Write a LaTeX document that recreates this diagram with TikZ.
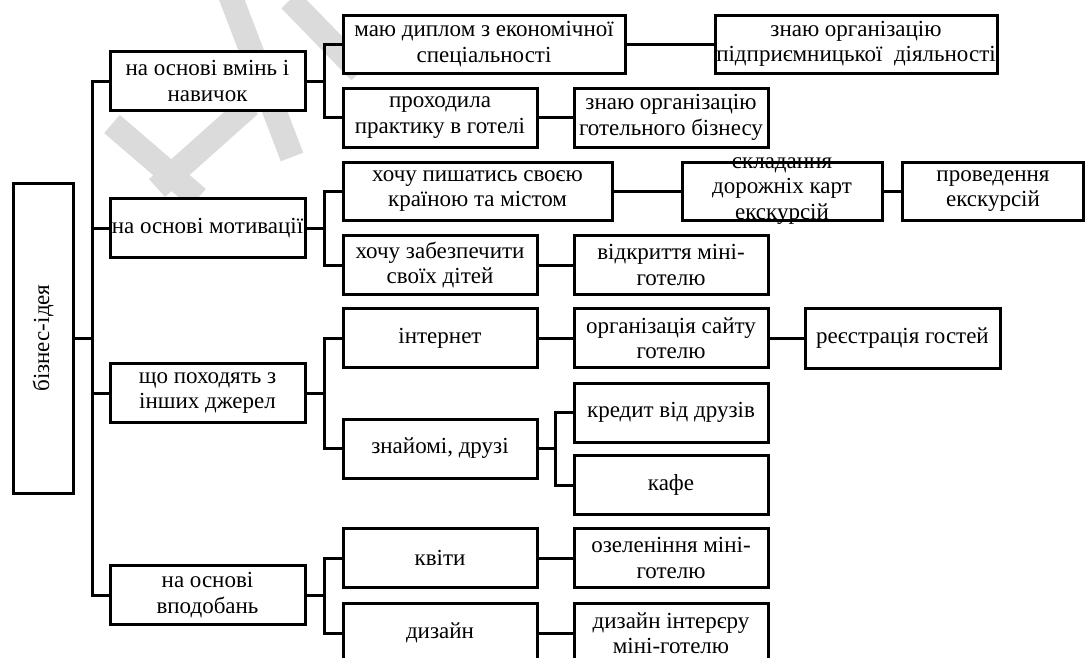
\documentclass[tikz,border=0pt]{standalone}
\usepackage{fontspec}
\setmainfont{Liberation Serif}
\newfontfamily\tnrfont{Liberation Serif}
\newcommand\diagfont{\tnrfont\fontsize{23}{25.5}\selectfont}
\begin{document}
\begin{tikzpicture}[x=1pt,y=-1pt,
  box/.style={draw, line width=3pt, fill=white, inner sep=0pt, align=center, font=\diagfont},
  lone/.style={box, minimum width=195pt, minimum height=59pt},
  mid/.style={box, minimum width=194pt, minimum height=59pt},
  ln/.style={line width=3pt},
  wm/.style={line width=24pt, color=black!14}]
\useasboundingbox (0,0) rectangle (1085,657);
\clip (0,0) rectangle (1085,657);
% watermark
\draw[wm] (230,-5) -- (292,157);
\draw[wm] (112,124) -- (198,198);
\draw[wm] (157,188) -- (250,105);
\draw[wm] (290,0) -- (360,72);
% level 0
\node[box, rotate=90, minimum width=310pt, minimum height=60pt] (idea) at (43,338) {бізнес-ідея};
% level 1
\node[lone] (a) at (207.5,81) {на основі вмінь і\\навичок};
\node[lone] (b) at (207.5,228) {на основі мотивації};
\node[lone] (c) at (207.5,393) {що походять з\\інших джерел};
\node[lone] (d) at (207.5,595) {на основі\\вподобань};
% level 2
\node[box, minimum width=282pt, minimum height=58pt] (a1) at (484,44) {маю диплом з економічної\\спеціальності};
\node[mid] (a2) at (440,117.5) {проходила\\практику в готелі};
\node[box, minimum width=269pt, minimum height=58pt] (b1) at (477.5,191) {хочу пишатись своєю\\країною та містом};
\node[mid] (b2) at (440,265) {хочу забезпечити\\своїх дітей};
\node[mid] (c1) at (440,338) {інтернет};
\node[mid] (c2) at (440,448.5) {знайомі, друзі};
\node[mid] (d1) at (440,558) {квіти};
\node[mid] (d2) at (440,633) {дизайн};
% level 3
\node[box, minimum width=282pt, minimum height=58pt] (a11) at (856,44) {знаю організацію\\підприємницької\ \ діяльності};
\node[mid] (a21) at (671,117.5) {знаю організацію\\готельного бізнесу};
\node[box, minimum width=200pt, minimum height=58pt] (b11) at (782,191) {};
\node[align=center, font=\diagfont, inner sep=0pt] (b11t) at (b11.center) {складання\\дорожніх карт\\екскурсій};
\node[box, minimum width=181pt, minimum height=58pt] (b111) at (993,191) {проведення\\екскурсій};
\node[mid] (b21) at (671,265) {відкриття міні-\\готелю};
\node[mid] (c11) at (671,338) {організація сайту\\готелю};
\node[box, minimum width=195pt, minimum height=60pt] (c111) at (902.5,338) {реєстрація гостей};
\node[mid] (c21) at (671,412.5) {кредит від друзів};
\node[mid] (c22) at (671,485) {кафе};
\node[mid] (d11) at (671,558) {озеленіння міні-\\готелю};
\node[mid] (d21) at (671,633) {дизайн інтерєру\\міні-готелю};
% connectors
\coordinate (tr) at (92,0);
\coordinate (ba) at (324,0);
\coordinate (bc) at (555,0);
\draw[ln] (idea.south) -- (idea.south -| tr);
\draw[ln] (a.west) -- (a.west -| tr) -- (d.west -| tr) -- (d.west);
\draw[ln] (b.west) -- (b.west -| tr);
\draw[ln] (c.west) -- (c.west -| tr);
\draw[ln] (a.east) -- (a.east -| ba);
\draw[ln] (a1.west) -- (a1.west -| ba) -- (a2.west -| ba) -- (a2.west);
\draw[ln] (b.east) -- (b.east -| ba);
\draw[ln] (b1.west) -- (b1.west -| ba) -- (b2.west -| ba) -- (b2.west);
\draw[ln] (c.east) -- (c.east -| ba);
\draw[ln] (c1.west) -- (c1.west -| ba) -- (c2.west -| ba) -- (c2.west);
\draw[ln] (d.east) -- (d.east -| ba);
\draw[ln] (d1.west) -- (d1.west -| ba) -- (d2.west -| ba) -- (d2.west);
\draw[ln] (a1.east) -- (a11.west);
\draw[ln] (a2.east) -- (a21.west);
\draw[ln] (b1.east) -- (b11.west);
\draw[ln] (b11.east) -- (b111.west);
\draw[ln] (b2.east) -- (b21.west);
\draw[ln] (c1.east) -- (c11.west);
\draw[ln] (c11.east) -- (c111.west);
\draw[ln] (c2.east) -- (c2.east -| bc);
\draw[ln] (c21.west) -- (c21.west -| bc) -- (c22.west -| bc) -- (c22.west);
\draw[ln] (d1.east) -- (d11.west);
\draw[ln] (d2.east) -- (d21.west);
\end{tikzpicture}
\end{document}
